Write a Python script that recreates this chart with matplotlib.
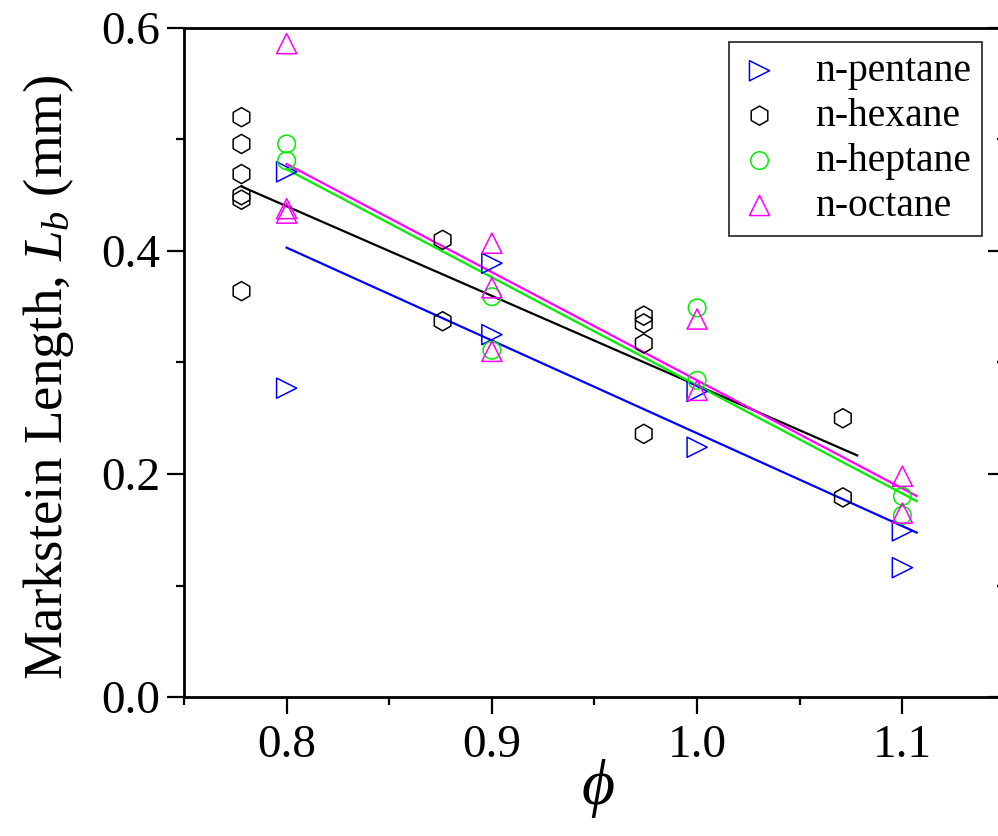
import numpy as np
import matplotlib
matplotlib.use("Agg")
import matplotlib.pyplot as plt
from matplotlib.ticker import MultipleLocator, FixedLocator

plt.rcParams['font.family'] = ['Liberation Serif', 'DejaVu Serif']
plt.rcParams['mathtext.fontset'] = 'custom'
plt.rcParams['mathtext.rm'] = 'Liberation Serif'
plt.rcParams['mathtext.it'] = 'Liberation Serif:italic'
plt.rcParams['mathtext.bf'] = 'Liberation Serif:bold'

# ---- data ----
pentane_x = [0.8, 0.8, 0.9, 0.9, 1.0, 1.0, 1.1, 1.1]
pentane_y = [0.471, 0.277, 0.389, 0.325, 0.274, 0.224, 0.149, 0.116]

hexane_x = [0.778, 0.778, 0.778, 0.778, 0.778, 0.778,
            0.876, 0.876,
            0.974, 0.974, 0.974, 0.974,
            1.071, 1.071]
hexane_y = [0.520, 0.496, 0.469, 0.450, 0.446, 0.364,
            0.410, 0.337,
            0.342, 0.335, 0.317, 0.236,
            0.250, 0.179]

heptane_x = [0.8, 0.8, 0.9, 0.9, 1.0, 1.0, 1.1, 1.1]
heptane_y = [0.496, 0.481, 0.359, 0.311, 0.349, 0.284, 0.180, 0.163]

octane_x = [0.8, 0.8, 0.8, 0.9, 0.9, 0.9, 1.0, 1.0, 1.1, 1.1]
octane_y = [0.586, 0.438, 0.434, 0.407, 0.367, 0.310, 0.339, 0.275, 0.198, 0.165]

labels = ['n-pentane', 'n-hexane', 'n-heptane', 'n-octane']
colors = ['#0000FF', '#000000', '#00EE00', '#FF00FF']
markers = ['>', 'h', 'o', '^']
msizes = [210, 190, 160, 210]

xticks = [0.8, 0.9, 1.0, 1.1]
yticks = [0.0, 0.2, 0.4, 0.6]

fig = plt.figure(figsize=(9.98, 8.36), dpi=100)
ax = fig.add_axes([184/998, 139/836, 821/998, 669/836])

series = [(pentane_x, pentane_y), (hexane_x, hexane_y),
          (heptane_x, heptane_y), (octane_x, octane_y)]

handles = []
for (xs, ys), lab, c, m, ms in zip(series, labels, colors, markers, msizes):
    xs = np.array(xs); ys = np.array(ys)
    h = ax.scatter(xs, ys, marker=m, s=ms, facecolors='none', edgecolors=c,
                   linewidths=1.1, label=lab, zorder=3)
    handles.append(h)
    k, b = np.polyfit(xs, ys, 1)
    xl = np.array([xs.min(), xs.max() + 0.007])
    ax.plot(xl, k * xl + b, color=c, lw=1.6, zorder=2)

ax.set_xlim(0.75, 1.15)
ax.set_ylim(0.0, 0.6)
ax.xaxis.set_major_locator(FixedLocator(xticks))
ax.xaxis.set_minor_locator(FixedLocator([0.75, 0.85, 0.95, 1.05, 1.15]))
ax.yaxis.set_major_locator(FixedLocator(yticks))
ax.yaxis.set_minor_locator(MultipleLocator(0.1))
ax.set_xticklabels(['%.1f' % v for v in xticks])
ax.set_yticklabels(['%.1f' % v for v in yticks])

ax.tick_params(axis='x', which='both', direction='out', top=False, labelsize=34, pad=8)
ax.tick_params(axis='y', which='both', direction='out', right=False, labelsize=34, pad=5)
ax.tick_params(which='major', length=12, width=1.6)
ax.tick_params(which='minor', length=6, width=1.6)
for s in ax.spines.values():
    s.set_linewidth(2.0)

# right-side inward ticks
axr = ax.twinx()
axr.set_ylim(0.0, 0.6)
axr.yaxis.set_major_locator(FixedLocator(yticks))
axr.yaxis.set_minor_locator(MultipleLocator(0.1))
axr.tick_params(axis='y', which='both', direction='in', labelright=False)
axr.tick_params(which='major', length=12, width=1.6)
axr.tick_params(which='minor', length=6, width=1.6)

ax.set_xlabel(r'$\phi$', fontsize=46)
ax.xaxis.set_label_coords((598 - 184) / 821, -(757 - 697) / 669)
ax.set_ylabel(r'Markstein Length, $L_b$ (mm)', fontsize=39.5)
ax.yaxis.set_label_coords((76 - 184) / 821, (697 - 377) / 669)

leg = ax.legend(handles=handles, loc='upper right', bbox_to_anchor=(0.972, 0.979),
                borderaxespad=0, fontsize=28.5, frameon=True, fancybox=False,
                handlelength=1.0, handletextpad=0.9, borderpad=0.28, labelspacing=0.2,
                markerscale=1.0, scatterpoints=1)
leg.get_frame().set_edgecolor('black')
leg.get_frame().set_linewidth(1.3)
leg.set_zorder(10)

fig.savefig('out.png', dpi=100)
